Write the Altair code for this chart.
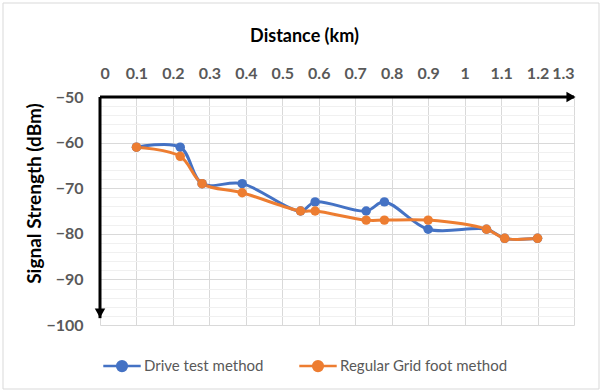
import altair as alt
import pandas as pd

distance = [0.1, 0.22, 0.28, 0.39, 0.55, 0.59, 0.73, 0.78, 0.9, 1.06, 1.11, 1.2]
drive_test = [-61, -61, -69, -69, -75, -73, -75, -73, -79, -79, -81, -81]
regular_grid = [-61, -63, -69, -71, -75, -75, -77, -77, -77, -79, -81, -81]
series_names = ["Drive test method", "Regular Grid foot method"]
series_colors = ["#4472C4", "#ED7D31"]
x_ticks = [round(i * 0.1, 1) for i in range(14)]
y_ticks = list(range(-100, -49, 2))

rows = []
for d, v in zip(distance, drive_test):
    rows.append({"Distance": d, "Signal": v, "Series": series_names[0]})
for d, v in zip(distance, regular_grid):
    rows.append({"Distance": d, "Signal": v, "Series": series_names[1]})
df = pd.DataFrame(rows)

FONT = "Lato"
xscale = alt.Scale(domain=[0, 1.3], nice=False, zero=False)
yscale = alt.Scale(domain=[-100, -50], nice=False, zero=False)

x_axis = alt.Axis(
    orient="top", values=x_ticks, format="~g", title="Distance (km)",
    domain=False, ticks=False, grid=True, gridColor="#d9d9d9", gridWidth=1,
    labelOverlap=False,
    labelFont=FONT, labelFontSize=16, labelFontWeight="bold", labelColor="#595959",
    labelPadding=16, titleFont=FONT, titleFontSize=18, titleFontWeight="bold",
    titleColor="#000000", titlePadding=20, titleX=204,
)
y_axis = alt.Axis(
    values=y_ticks, title="Signal Strength (dBm)",
    labelExpr="datum.value % 10 === 0 ? datum.label : ''",
    domain=False, ticks=False, grid=True,
    gridColor=alt.condition("datum.value % 10 === 0", alt.value("#d9d9d9"), alt.value("#f0f0f0")),
    labelOverlap=False,
    labelFont=FONT, labelFontSize=16, labelFontWeight="bold", labelColor="#595959",
    labelPadding=17, titleFont=FONT, titleFontSize=19, titleFontWeight="bold",
    titleColor="#000000", titleX=-56, titleY=96,
)

color_scale = alt.Scale(domain=series_names, range=series_colors)
color = alt.Color(
    "Series:N", scale=color_scale,
    legend=alt.Legend(
        title=None, orient="none", direction="horizontal",
        legendX=2, legendY=249,
        symbolType="M-1,0H1M0.26,0A0.26,0.26,0,1,1,-0.26,0A0.26,0.26,0,1,1,0.26,0",
        symbolSize=1400, symbolStrokeWidth=2.5,
        labelFont=FONT, labelFontSize=15, labelColor="#595959", labelLimit=400,
        labelOffset=2, columnPadding=30,
    ),
)

def X(field):
    return alt.X(field, type="quantitative", scale=xscale, axis=x_axis)

def Y(field):
    return alt.Y(field, type="quantitative", scale=yscale, axis=y_axis)

lines = alt.Chart(df).mark_line(interpolate="catmull-rom", strokeWidth=3).encode(
    x=X("Distance"), y=Y("Signal"), color=color
)
points = alt.Chart(df).mark_point(filled=True, size=90, opacity=1).encode(
    x=X("Distance"), y=Y("Signal"), color=color
)

axis_df = pd.DataFrame({"x0": [0], "x1": [1.3], "y0": [-50], "y1": [-98.5]})
x_axis_line = alt.Chart(axis_df).mark_rule(color="black", strokeWidth=3).encode(
    x=X("x0"), x2="x1:Q", y=Y("y0")
)
y_axis_line = alt.Chart(axis_df).mark_rule(color="black", strokeWidth=3).encode(
    x=X("x0"), y=Y("y0"), y2="y1:Q"
)
x_arrow = alt.Chart(axis_df).mark_point(shape="triangle-right", filled=True, color="black", size=110, opacity=1, xOffset=-3).encode(
    x=X("x1"), y=Y("y0")
)
y_arrow = alt.Chart(axis_df).mark_point(shape="triangle-down", filled=True, color="black", size=110, opacity=1, yOffset=-5).encode(
    x=X("x0"), y=Y("y1")
)
border = alt.Chart(axis_df).mark_rect(fill=None, stroke="#d9d9d9", strokeWidth=1).encode(
    x=alt.value(-97), x2=alt.value(499), y=alt.value(-94), y2=alt.value(292)
)

chart = alt.layer(lines, points, x_axis_line, y_axis_line, x_arrow, y_arrow, border).properties(
    width=474, height=228,
    autosize=alt.AutoSizeParams(type="none"),
    padding={"left": 100, "top": 97, "right": 29, "bottom": 67},
    background="white",
).configure_view(stroke=None)

chart.save("out.html", embed_options={"renderer": "svg", "actions": False})
